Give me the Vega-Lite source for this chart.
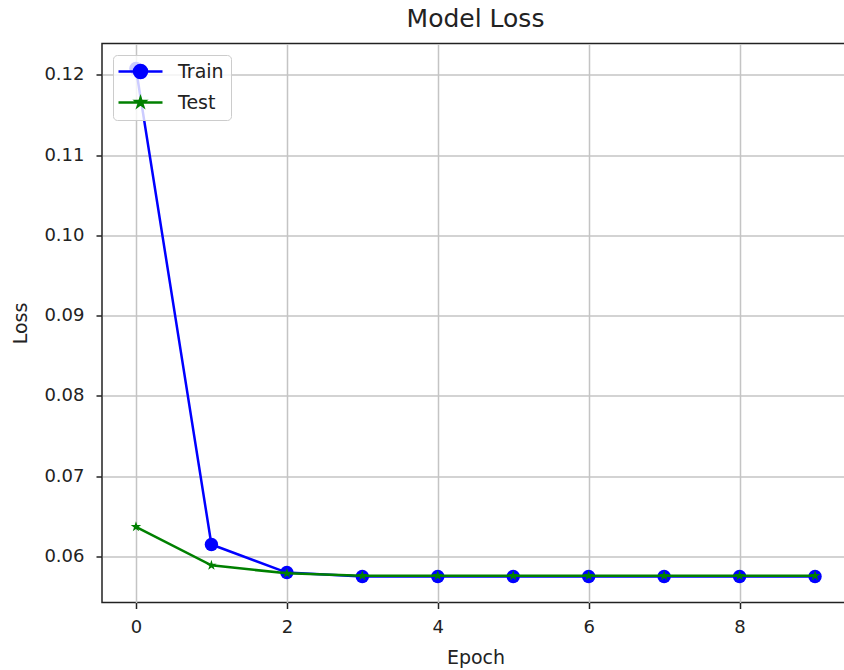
{
  "$schema": "https://vega.github.io/schema/vega-lite/v6.json",
  "width": 747,
  "height": 559,
  "autosize": {"type": "none"},
  "padding": {"left": 102, "top": 43.5, "right": 0, "bottom": 67.5},
  "background": "white",
  "title": {"text": "Model Loss", "fontSize": 25, "font": "DejaVu Sans", "fontWeight": "normal", "color": "#222222", "offset": 12, "anchor": "middle"},
  "config": {
    "view": {"stroke": "#222222", "strokeWidth": 1.5},
    "font": "DejaVu Sans"
  },
  "data": {
    "values": [
      {"epoch": 0, "loss": 0.1208, "series": "Train"},
      {"epoch": 1, "loss": 0.0615, "series": "Train"},
      {"epoch": 2, "loss": 0.0580, "series": "Train"},
      {"epoch": 3, "loss": 0.0575, "series": "Train"},
      {"epoch": 4, "loss": 0.0575, "series": "Train"},
      {"epoch": 5, "loss": 0.0575, "series": "Train"},
      {"epoch": 6, "loss": 0.0575, "series": "Train"},
      {"epoch": 7, "loss": 0.0575, "series": "Train"},
      {"epoch": 8, "loss": 0.0575, "series": "Train"},
      {"epoch": 9, "loss": 0.0575, "series": "Train"},
      {"epoch": 0, "loss": 0.0637, "series": "Test"},
      {"epoch": 1, "loss": 0.0589, "series": "Test"},
      {"epoch": 2, "loss": 0.0579, "series": "Test"},
      {"epoch": 3, "loss": 0.0576, "series": "Test"},
      {"epoch": 4, "loss": 0.0576, "series": "Test"},
      {"epoch": 5, "loss": 0.0576, "series": "Test"},
      {"epoch": 6, "loss": 0.0576, "series": "Test"},
      {"epoch": 7, "loss": 0.0576, "series": "Test"},
      {"epoch": 8, "loss": 0.0576, "series": "Test"},
      {"epoch": 9, "loss": 0.0576, "series": "Test"}
    ]
  },
  "encoding": {
    "x": {
      "field": "epoch", "type": "quantitative",
      "scale": {"domain": [-0.45, 9.45], "nice": false, "zero": false},
      "axis": {"values": [0, 2, 4, 6, 8], "title": "Epoch", "titleFontSize": 19, "titleFontWeight": "normal", "titleColor": "#222222", "titleY": 54.5, "titleBaseline": "middle", "labelFontSize": 18, "labelColor": "#222222", "labelPadding": 10, "tickSize": 6, "tickColor": "#222222", "tickWidth": 1.5, "domain": false, "grid": true, "gridColor": "#c4c4c4", "gridWidth": 1.5}
    },
    "y": {
      "field": "loss", "type": "quantitative",
      "scale": {"domain": [0.05427, 0.12392], "nice": false, "zero": false},
      "axis": {"values": [0.06, 0.07, 0.08, 0.09, 0.10, 0.11, 0.12], "format": ".2f", "title": "Loss", "titleFontSize": 19, "titleFontWeight": "normal", "titleColor": "#222222", "titleX": -82, "titleY": 279.5, "titleAngle": -90, "titleBaseline": "middle", "titleAlign": "center", "labelFontSize": 18, "labelColor": "#222222", "labelPadding": 12, "tickSize": 6, "tickColor": "#222222", "tickWidth": 1.5, "domain": false, "grid": true, "gridColor": "#c4c4c4", "gridWidth": 1.5}
    },
    "color": {
      "field": "series", "type": "nominal",
      "scale": {"domain": ["Train", "Test"], "range": ["#0000ff", "#008000"]},
      "legend": {
        "title": null,
        "orient": "none",
        "legendX": 11,
        "legendY": 11.5,
        "padding": 7,
        "fillColor": "rgba(255,255,255,0.8)",
        "strokeColor": "#cccccc",
        "cornerRadius": 4,
        "labelFontSize": 19,
        "labelFont": "DejaVu Sans",
        "labelColor": "#222222",
        "symbolSize": 144,
        "symbolOffset": 11,
        "labelOffset": 28,
        "rowPadding": 10,
        "encode": {
          "symbols": {
            "update": {
              "shape": {"signal": "datum.value === 'Train' ? 'M-3.667,0H3.667M1.083,0A1.083,1.083 0 1,1 -1.083,0A1.083,1.083 0 1,1 1.083,0Z' : 'M-3.667,0H3.667M0,-0.75L0.168,-0.231L0.713,-0.231L0.272,0.088L0.441,0.607L0,0.286L-0.441,0.607L-0.272,0.088L-0.713,-0.231L-0.168,-0.231Z'"},
              "fill": {"signal": "datum.value === 'Train' ? '#0000ff' : '#008000'"},
              "stroke": {"signal": "datum.value === 'Train' ? '#0000ff' : '#008000'"},
              "strokeWidth": {"value": 2.5},
              "opacity": {"value": 1},
              "fillOpacity": {"value": 1}
            }
          }
        }
      }
    }
  },
  "layer": [
    {
      "transform": [{"filter": "datum.series === 'Train'"}],
      "layer": [
        {"mark": {"type": "line", "strokeWidth": 2.5}},
        {"mark": {"type": "point", "filled": true, "opacity": 1, "shape": "circle", "size": 180}}
      ]
    },
    {
      "transform": [{"filter": "datum.series === 'Test'"}],
      "layer": [
        {"mark": {"type": "line", "strokeWidth": 2.5}},
        {"mark": {"type": "point", "filled": true, "opacity": 1, "size": 120, "shape": "M0,-1L0.2245,-0.309L0.951,-0.309L0.363,0.118L0.588,0.809L0,0.382L-0.588,0.809L-0.363,0.118L-0.951,-0.309L-0.2245,-0.309Z"}}
      ]
    }
  ]
}
